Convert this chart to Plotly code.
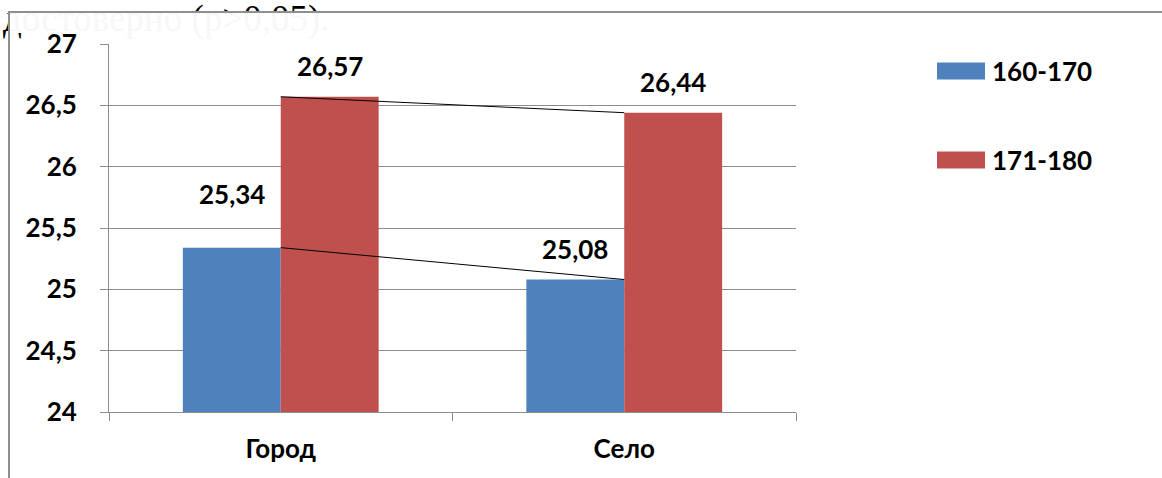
import plotly.graph_objects as go

categories = ["Город", "Село"]
series_names = ["160-170", "171-180"]
values_160_170 = [25.34, 25.08]
values_171_180 = [26.57, 26.44]
caption = "достоверно (p>0,05)."

W, H = 1162, 478
L, R, T, B = 109, 796, 44, 412
BLUE = "#4F81BD"
RED = "#C0504D"
GRID = "#8c8c8c"
FRAME = "#8f8f8f"
FONT = "Lato"


def px(x):
    return (x - L) / (R - L)


def py(y):
    return (B - y) / (B - T)


def fmt(v):
    return f"{v:.2f}".replace(".", ",")


fig = go.Figure()
fig.add_trace(go.Bar(x=categories, y=values_160_170, name=series_names[0],
                     marker=dict(color=BLUE, line=dict(width=0)), showlegend=False))
fig.add_trace(go.Bar(x=categories, y=values_171_180, name=series_names[1],
                     marker=dict(color=RED, line=dict(width=0)), showlegend=False))
# series lines
for vals in (values_160_170, values_171_180):
    fig.add_trace(go.Scatter(x=categories, y=vals, mode="lines",
                             line=dict(color="black", width=1),
                             showlegend=False, hoverinfo="skip"))

annotations = []
label_shift = {0: [54, 31], 1: [31, 31]}
for i, c in enumerate(categories):
    for j, (vals, dx) in enumerate(((values_160_170, -49), (values_171_180, 49))):
        annotations.append(dict(x=c, y=vals[i], xref="x", yref="y", text=fmt(vals[i]),
                                showarrow=False, xshift=dx, yshift=label_shift[i][j],
                                yanchor="middle",
                                font=dict(family=FONT, size=26, color="black", weight="bold")))

# manual legend
legend_y = [71, 160]
colors = [BLUE, RED]
shapes = []
for name, yy, col in zip(series_names, legend_y, colors):
    shapes.append(dict(type="rect", xref="paper", yref="paper",
                       x0=px(937), x1=px(985), y0=py(yy - 8.5), y1=py(yy + 8.5),
                       fillcolor=col, line=dict(width=0)))
    annotations.append(dict(x=px(990), y=py(yy), xref="paper", yref="paper", text=name,
                            showarrow=False, xanchor="left", yanchor="middle",
                            font=dict(family=FONT, size=26, color="black", weight="bold")))

# caption of the surrounding document, partly hidden by the chart frame
annotations.append(dict(x=px(332), y=py(19), xref="paper", yref="paper", text=caption,
                        showarrow=False, xanchor="right", yanchor="middle",
                        font=dict(family="Liberation Serif", size=37, color="black")))
# translucent chart background covering the caption
for (x0, y0, w, h) in ((10, 13, W - 10, 20), (86, 33, W - 86, 9)):
    annotations.append(dict(x=px(x0), y=py(y0), xref="paper", yref="paper", text=" ",
                            showarrow=False, xanchor="left", yanchor="top",
                            width=w, height=h, borderpad=0, borderwidth=0,
                            bgcolor="white", opacity=0.97))
# chart frame edges drawn over the caption
annotations.append(dict(x=px(8), y=py(11), xref="paper", yref="paper", text=" ",
                        showarrow=False, xanchor="left", yanchor="top",
                        width=W, height=2, borderpad=0, borderwidth=0,
                        bgcolor=FRAME))
annotations.append(dict(x=px(8), y=py(11), xref="paper", yref="paper", text=" ",
                        showarrow=False, xanchor="left", yanchor="top",
                        width=2, height=40, borderpad=0, borderwidth=0,
                        bgcolor=FRAME))
shapes.append(dict(type="line", xref="paper", yref="paper",
                   x0=px(9), x1=px(9), y0=py(12), y1=py(H + 5),
                   line=dict(color=FRAME, width=2)))

fig.update_layout(
    width=W, height=H,
    margin=dict(l=L, r=W - R, t=T, b=H - B, pad=0),
    paper_bgcolor="white", plot_bgcolor="white",
    separators=", ",
    barmode="group", bargap=0.43, bargroupgap=0,
    font=dict(family=FONT, size=26, color="black"),
    xaxis=dict(type="category", showline=True, linecolor=GRID, linewidth=1,
               ticks="outside", tickson="boundaries", ticklen=8, tickcolor=GRID,
               showgrid=False, ticklabelstandoff=14,
               tickfont=dict(family=FONT, size=26, color="black", weight="bold")),
    yaxis=dict(range=[24, 27], dtick=0.5, showline=True, linecolor=GRID, linewidth=1,
               ticks="outside", ticklen=8, tickcolor=GRID, showgrid=True,
               gridcolor=GRID, gridwidth=1, zeroline=False, ticklabelstandoff=18,
               tickfont=dict(family=FONT, size=26, color="black", weight="bold")),
    annotations=annotations,
    shapes=shapes,
)

fig.write_html("out.html")
